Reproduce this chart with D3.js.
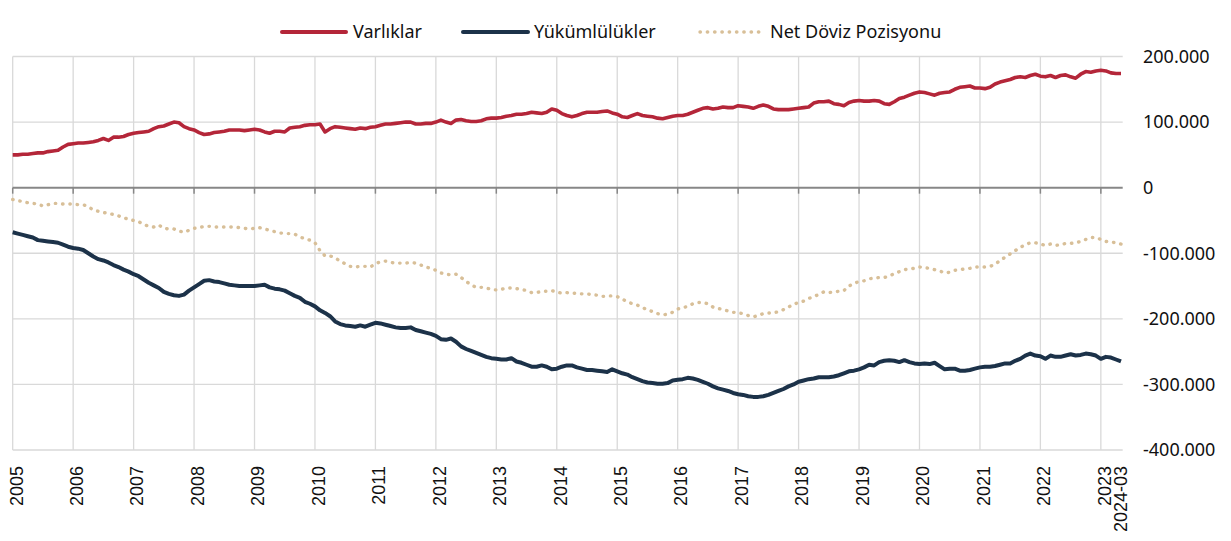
<!DOCTYPE html>
<html>
<head>
<meta charset="utf-8">
<script src="https://cdn.jsdelivr.net/npm/d3@7"></script>
<style>
  body { margin: 0; background: #fff; }
  svg { display: block; }
</style>
</head>
<body>
<div id="chart"></div>
<script>
// Values in thousands, monthly from 2005-01
const varliklar = [
  50,50,51,51,52,53,53,55,56,57,62,66,
  67,68,68,69,70,72,75,72,77,77,78,81,
  83,84,85,86,90,93,94,97,100,99,93,90,
  88,84,81,82,84,85,86,88,88,88,87,88,
  89,88,85,83,86,86,85,91,92,93,95,96,
  96,97,85,90,93,92,91,90,89,91,90,92,
  93,95,97,97,98,99,100,100,97,97,98,98,
  100,103,100,98,103,104,102,101,101,102,105,106,
  106,107,109,110,112,112,113,115,114,113,115,120,
  118,113,110,108,110,113,115,115,115,116,117,114,
  112,108,107,110,113,110,109,108,106,105,107,109,
  110,110,112,115,118,121,122,120,121,123,122,122,
  125,124,123,121,124,126,124,120,119,119,119,120,
  121,122,123,129,131,131,132,128,127,125,130,132,
  133,132,132,133,132,128,127,131,136,138,141,144,
  146,145,143,141,144,145,146,150,153,154,155,152,
  152,151,153,158,161,163,165,168,169,168,171,173,
  170,169,171,168,171,172,169,167,173,177,176,178,
  179,178,175,174,174
];
const yukumlulukler = [
  -68,-70,-72,-74,-76,-80,-81,-82,-83,-84,-87,-90,
  -92,-93,-95,-100,-105,-109,-111,-114,-118,-121,-125,-128,
  -132,-135,-140,-145,-149,-153,-159,-162,-164,-165,-163,-157,
  -152,-147,-142,-141,-143,-144,-146,-148,-149,-150,-150,-150,
  -150,-149,-148,-152,-154,-155,-157,-161,-165,-168,-174,-177,
  -181,-187,-191,-196,-204,-208,-210,-211,-212,-210,-212,-209,
  -206,-207,-209,-211,-213,-214,-214,-213,-217,-219,-221,-223,
  -226,-231,-232,-230,-235,-242,-246,-249,-252,-255,-258,-260,
  -261,-262,-262,-260,-265,-267,-270,-273,-273,-271,-273,-277,
  -276,-273,-271,-271,-274,-276,-278,-278,-279,-280,-281,-277,
  -280,-283,-285,-289,-292,-295,-297,-298,-299,-299,-298,-294,
  -293,-292,-290,-291,-293,-296,-299,-303,-306,-308,-310,-313,
  -315,-316,-318,-319,-319,-318,-316,-313,-310,-307,-303,-300,
  -296,-294,-292,-291,-289,-289,-289,-288,-286,-283,-280,-279,
  -277,-274,-270,-271,-266,-264,-263,-264,-266,-263,-266,-268,
  -269,-268,-269,-267,-272,-277,-276,-276,-279,-279,-278,-276,
  -274,-273,-273,-272,-270,-268,-268,-264,-261,-256,-253,-256,
  -257,-261,-256,-258,-258,-256,-254,-256,-255,-253,-254,-256,
  -261,-258,-259,-262,-265
];
const netPozisyon = [
  -18,-20,-21,-23,-24,-25,-28,-26,-24,-24,-25,-25,
  -25,-26,-26,-29,-34,-36,-38,-39,-41,-43,-46,-48,
  -50,-52,-56,-59,-60,-57,-62,-63,-63,-66,-68,-65,
  -62,-61,-59,-59,-60,-60,-60,-60,-60,-61,-62,-63,
  -62,-61,-63,-65,-67,-69,-70,-70,-71,-75,-78,-80,
  -84,-96,-104,-104,-107,-112,-116,-120,-121,-120,-120,-121,
  -116,-113,-112,-114,-115,-115,-115,-114,-115,-118,-121,-123,
  -126,-130,-132,-133,-132,-137,-143,-148,-152,-152,-153,-155,
  -156,-155,-153,-153,-154,-155,-157,-160,-160,-158,-158,-157,
  -159,-161,-160,-161,-161,-162,-162,-163,-164,-166,-165,-165,
  -166,-170,-174,-177,-179,-183,-186,-189,-192,-194,-193,-190,
  -185,-183,-181,-177,-175,-175,-177,-182,-184,-186,-188,-190,
  -191,-192,-195,-197,-195,-192,-191,-191,-189,-186,-182,-178,
  -175,-173,-169,-166,-163,-159,-160,-159,-158,-157,-150,-146,
  -143,-142,-139,-138,-137,-137,-135,-131,-128,-125,-124,-123,
  -121,-122,-123,-125,-127,-130,-129,-126,-125,-124,-123,-121,
  -121,-121,-120,-117,-111,-106,-101,-96,-91,-87,-84,-84,
  -86,-88,-86,-88,-87,-85,-85,-84,-82,-79,-76,-76,
  -79,-82,-83,-84,-86
];

// X tick labels and the month index they sit at
const xTickLabels = ["2005","2006","2007","2008","2009","2010","2011","2012","2013",
  "2014","2015","2016","2017","2018","2019","2020","2021","2022","2023","2024-03"];
const xTickIndex = [0,12,24,36,48,60,72,84,96,108,120,132,144,156,168,180,192,204,216,220];
const yTicks = [200, 100, 0, -100, -200, -300, -400];

const seriesNames = ["Varlıklar", "Yükümlülükler", "Net Döviz Pozisyonu"];
const colors = ["#b42639", "#1c3249", "#d8bf98"];

const W = 1231, H = 541;
const N = varliklar.length;

const svg = d3.select("#chart").append("svg")
  .attr("width", W)
  .attr("height", H)
  .style("background", "#fff");

const x = d3.scaleLinear().domain([0, N - 1]).range([12.7, 1121]);
const y = d3.scaleLinear().domain([-400, 200]).range([450, 56.5]);
const gridRight = 1122.7;

const trLocale = d3.formatLocale({ decimal: ",", thousands: ".", grouping: [3], currency: ["", ""], minus: "-" });
const fmt = trLocale.format(",");

// Horizontal gridlines
svg.append("g").selectAll("line")
  .data(yTicks.filter(d => d !== 0))
  .join("line")
  .attr("x1", x(0)).attr("x2", gridRight)
  .attr("y1", d => y(d)).attr("y2", d => y(d))
  .attr("stroke", "#d9d9d9").attr("stroke-width", 1.3);

// Vertical gridlines at years
svg.append("g").selectAll("line")
  .data(xTickIndex.slice(0, -1))
  .join("line")
  .attr("x1", d => x(d)).attr("x2", d => x(d))
  .attr("y1", y(200)).attr("y2", y(-400))
  .attr("stroke", "#d9d9d9").attr("stroke-width", 1.3);

// Zero line with ticks
svg.append("line")
  .attr("x1", x(0)).attr("x2", gridRight)
  .attr("y1", y(0)).attr("y2", y(0))
  .attr("stroke", "#878787").attr("stroke-width", 2);
svg.append("g").selectAll("line")
  .data(xTickIndex.slice(0, -1))
  .join("line")
  .attr("x1", d => x(d)).attr("x2", d => x(d))
  .attr("y1", y(0)).attr("y2", y(0) + 6)
  .attr("stroke", "#878787").attr("stroke-width", 1.5);

// Lines
const line = d3.line().x((d, i) => x(i)).y(d => y(d));

svg.append("path").datum(netPozisyon)
  .attr("d", line)
  .attr("fill", "none")
  .attr("stroke", colors[2])
  .attr("stroke-width", 3.4)
  .attr("stroke-linecap", "round")
  .attr("stroke-dasharray", "0.4 6.9");

svg.append("path").datum(yukumlulukler)
  .attr("d", line)
  .attr("fill", "none")
  .attr("stroke", colors[1])
  .attr("stroke-width", 4)
  .attr("stroke-linejoin", "round");

svg.append("path").datum(varliklar)
  .attr("d", line)
  .attr("fill", "none")
  .attr("stroke", colors[0])
  .attr("stroke-width", 3.6)
  .attr("stroke-linejoin", "round");

// Y axis labels on the right
const yAxis = svg.append("g")
  .attr("transform", "translate(1143,0)")
  .call(d3.axisRight(y).tickValues(yTicks).tickSize(0).tickPadding(0).tickFormat(d => fmt(d * 1000)));
yAxis.select(".domain").remove();
yAxis.selectAll("text")
  .style("font-family", "'Noto Sans', sans-serif")
  .style("font-size", "18px")
  .attr("fill", "#111");

// X labels, rotated
svg.append("g").selectAll("text")
  .data(xTickLabels)
  .join("text")
  .attr("transform", (d, i) => {
    const last = i === xTickLabels.length - 1;
    const px = x(xTickIndex[i]) + (last ? 0 : 3.5);
    return `translate(${px},466) rotate(-90)`;
  })
  .attr("text-anchor", "end")
  .attr("dy", "0.35em")
  .style("font-family", "'Liberation Sans', Arial, sans-serif")
  .style("font-size", "18px")
  .attr("fill", "#111")
  .text(d => d);

// Legend
const legendItems = [
  { name: seriesNames[0], color: colors[0], x1: 282, x2: 346, tx: 353, dash: null, w: 4 },
  { name: seriesNames[1], color: colors[1], x1: 463, x2: 528, tx: 534, dash: null, w: 4 },
  { name: seriesNames[2], color: colors[2], x1: 700, x2: 762, tx: 770, dash: "0.4 6.9", w: 3.4 }
];
const legend = svg.append("g");
legendItems.forEach(item => {
  legend.append("line")
    .attr("x1", item.x1).attr("x2", item.x2)
    .attr("y1", 32).attr("y2", 32)
    .attr("stroke", item.color)
    .attr("stroke-width", item.w)
    .attr("stroke-linecap", "round")
    .attr("stroke-dasharray", item.dash);
  legend.append("text")
    .attr("x", item.tx).attr("y", 32)
    .attr("dy", "0.35em")
    .style("font-family", "'Noto Sans', sans-serif")
    .style("font-size", "18px")
    .attr("fill", "#111")
    .text(item.name);
});
</script>
</body>
</html>
